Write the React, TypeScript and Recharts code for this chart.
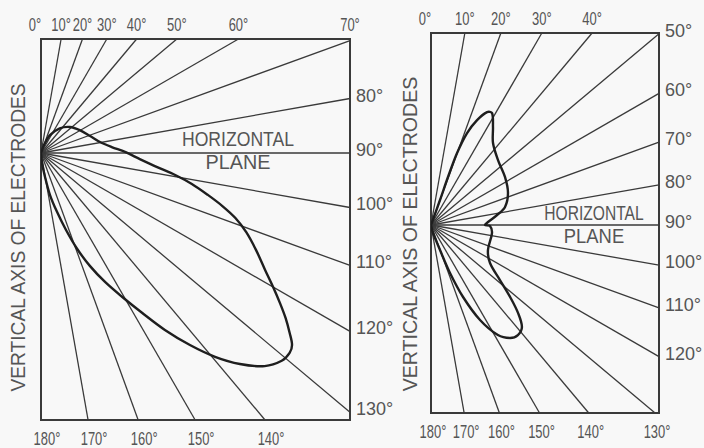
import React from "react";
import {
  ComposedChart,
  XAxis,
  YAxis,
  Line,
  ReferenceLine,
  ReferenceArea,
  ReferenceDot
} from "recharts";

// radial guide lines, degrees from the vertical axis
const gridAngles = [0, 10, 20, 30, 40, 50, 60, 70, 80, 90, 100, 110, 120, 130, 140, 150, 160, 170, 180];

// which edge of the frame each angle label sits on
const leftTopAngles = [0, 10, 20, 30, 40, 50, 60, 70];
const leftSideAngles = [80, 90, 100, 110, 120, 130];
const leftBottomAngles = [140, 150, 160, 170, 180];

const rightTopAngles = [0, 10, 20, 30, 40];
const rightSideAngles = [50, 60, 70, 80, 90, 100, 110, 120];
const rightBottomAngles = [130, 140, 150, 160, 170, 180];

// traced distribution curves (angle, radius) in drawing order
const leftCurveAngles = [
  18, 20.6, 26.6, 37.2, 48.1, 59.5, 70.9, 79.4, 85.2, 89.3, 93.5, 96.9, 99.3, 101.6, 104.1, 106.3,
  108.5, 111.1, 114.3, 117.6, 120, 122.1, 124, 125.9, 127.4, 128.8, 130.8, 133.6, 136.7, 139.5,
  142.2, 145, 147.7, 150.6, 153.6, 156.6, 159.4, 162, 164.8, 167.9, 170.5, 174.3, 176
];
const leftCurveRadii = [
  0, 8.5, 20, 31, 39, 45, 52, 60, 71, 84, 99, 117, 136, 154, 172, 189,
  205, 220, 236, 253, 268, 282, 295, 307, 316, 319, 318, 309, 290, 268,
  243, 216, 189, 165, 144, 123, 102, 81, 61, 43, 24, 10, 0
];

const rightCurveAngles = [19, 19.8, 19.5, 19.9, 21.4, 23.7, 26.4, 28.6, 32.3, 37.1, 45.9, 57, 67.4, 76.3, 81.4, 87, 90, 91, 97.5, 113.7, 122.8, 128.6, 132.3, 135.3, 138.3, 141.7, 145, 148.7, 152.7, 156, 158.4, 160.2, 166, 170];
const rightCurveRadii = [0, 26.6, 50.9, 76.6, 98.8, 114.6, 126.1, 127.5, 116, 102.8, 93.3, 88.2, 83.4, 76.2, 66.8, 57.1, 54, 59, 61.5, 62.2, 70.2, 88.2, 106.9, 123.7, 136.7, 140.2, 137.9, 128.8, 106.9, 78.8, 51.6, 26.6, 8.2, 0];

const TEXT = "#555";
const INK = "#3a3a3a";
const FONT = "'Liberation Sans', Arial, sans-serif";

type Frame = { width: number; up: number; down: number };

const rad = (d: number) => (d * Math.PI) / 180;

const toXY = (angle: number, r: number) => ({
  x: r * Math.sin(rad(angle)),
  y: r * Math.cos(rad(angle))
});

// point where a ray from the origin leaves the frame
const rayEnd = (angle: number, f: Frame) => {
  const s = Math.sin(rad(angle));
  const c = Math.cos(rad(angle));
  let t = Infinity;
  if (s > 1e-9) t = Math.min(t, f.width / s);
  if (c > 1e-9) t = Math.min(t, f.up / c);
  if (c < -1e-9) t = Math.min(t, f.down / -c);
  return {
    x: Math.min(f.width, Math.max(0, s * t)),
    y: Math.min(f.up, Math.max(-f.down, c * t))
  };
};

// smooth curve through the traced points (chord-length hermite), handed to Line as its curve type
const smoothTrace = (context: any) => {
  let pts: [number, number][] = [];
  return {
    areaStart() {},
    areaEnd() {},
    lineStart() {
      pts = [];
    },
    point(x: number, y: number) {
      pts.push([+x, +y]);
    },
    lineEnd() {
      if (!pts.length) return;
      const d = (a: [number, number], b: [number, number]) => Math.hypot(b[0] - a[0], b[1] - a[1]) || 1e-6;
      context.moveTo(pts[0][0], pts[0][1]);
      for (let i = 0; i < pts.length - 1; i++) {
        const p0 = pts[Math.max(0, i - 1)];
        const p1 = pts[i];
        const p2 = pts[i + 1];
        const p3 = pts[Math.min(pts.length - 1, i + 2)];
        const d12 = d(p1, p2);
        const k1 = d12 / (3 * (d(p0, p1) + d12));
        const k2 = d12 / (3 * (d12 + d(p2, p3)));
        context.bezierCurveTo(
          p1[0] + (p2[0] - p0[0]) * k1, p1[1] + (p2[1] - p0[1]) * k1,
          p2[0] - (p3[0] - p1[0]) * k2, p2[1] - (p3[1] - p1[1]) * k2,
          p2[0], p2[1]
        );
      }
    }
  };
};

// hand-lettered labels are condensed, so squeeze them horizontally
const Squeezed = ({ x, y, sx, rotate = 0, size, anchor = "middle", children }: any) => (
  <text
    transform={`translate(${x},${y}) rotate(${rotate}) scale(${sx},1)`}
    textAnchor={anchor}
    fill={TEXT}
    fontSize={size}
    fontFamily={FONT}
  >
    {children}
  </text>
);

type PanelProps = {
  frame: Frame;
  topAngles: number[];
  sideAngles: number[];
  bottomAngles: number[];
  curveAngles: number[];
  curveRadii: number[];
  width: number;
  height: number;
  margin: { top: number; right: number; bottom: number; left: number };
  sideWidth: number;
  bottomShift: number;
  planeX: number;
  horizScale: number;
  planeScale: number;
  horizGap: number;
  planeGap: number;
  titleScale: number;
  titleDx: number;
  titleDy: number;
};

const Panel = (p: PanelProps) => {
  const f = p.frame;
  const topMap = new Map<number, string>();
  p.topAngles.forEach(a => topMap.set(rayEnd(a, f).x, `${a}°`));
  const sideMap = new Map<number, string>();
  p.sideAngles.forEach(a => sideMap.set(rayEnd(a, f).y, `${a}°`));
  const bottomMap = new Map<number, string>();
  p.bottomAngles.forEach(a => bottomMap.set(rayEnd(a, f).x, `${a}°`));

  const curve = p.curveAngles.map((a, i) => toXY(a, p.curveRadii[i]));

  const topTick = (t: any) => {
    const s = topMap.get(t.payload.value) ?? "";
    const dx = s === "0°" ? -6 : 0;
    return <Squeezed x={t.x + dx} y={t.y - 6} sx={0.72} size={18}>{s}</Squeezed>;
  };
  const bottomTick = (t: any) => {
    const s = bottomMap.get(t.payload.value) ?? "";
    return <Squeezed x={t.x + p.bottomShift} y={t.y + 23} sx={0.72} size={18}>{s}</Squeezed>;
  };
  const sideTick = (t: any) => {
    const s = sideMap.get(t.payload.value) ?? "";
    return (
      <text x={t.x + 4} y={t.y + 3} textAnchor="start" fill={TEXT} fontSize={18} fontFamily={FONT}>{s}</text>
    );
  };

  const title = (l: any) => {
    const vb = l.viewBox;
    return (
      <Squeezed x={vb.x + p.titleDx} y={vb.y + vb.height / 2 + p.titleDy} rotate={-90} sx={p.titleScale} size={20}>
        VERTICAL AXIS OF ELECTRODES
      </Squeezed>
    );
  };

  const plane = (l: any) => {
    const vb = l.viewBox;
    return (
      <g>
        <Squeezed x={vb.x} y={vb.y - p.horizGap} sx={p.horizScale} size={20}>HORIZONTAL</Squeezed>
        <Squeezed x={vb.x} y={vb.y + p.planeGap} sx={p.planeScale} size={20}>PLANE</Squeezed>
      </g>
    );
  };

  return (
    <ComposedChart width={p.width} height={p.height} margin={p.margin}>
      <XAxis xAxisId="t" orientation="top" type="number" dataKey="x" domain={[0, f.width]}
        allowDataOverflow ticks={[...topMap.keys()]} interval={0} tick={topTick}
        axisLine={false} tickLine={false} tickSize={0} height={20} />
      <XAxis xAxisId="b" orientation="bottom" type="number" dataKey="x" domain={[0, f.width]}
        allowDataOverflow ticks={[...bottomMap.keys()]} interval={0} tick={bottomTick}
        axisLine={false} tickLine={false} tickSize={0} height={20} />
      <YAxis yAxisId="r" orientation="right" type="number" dataKey="y" domain={[-f.down, f.up]}
        allowDataOverflow ticks={[...sideMap.keys()]} interval={0} tick={sideTick}
        axisLine={false} tickLine={false} tickSize={0} width={p.sideWidth} />
      <ReferenceArea xAxisId="t" yAxisId="r" x1={0} x2={f.width} y1={-f.down} y2={f.up}
        fill="none" stroke={INK} strokeWidth={2} ifOverflow="visible" label={title} />
      {gridAngles.map(a => (
        <ReferenceLine key={a} xAxisId="t" yAxisId="r" ifOverflow="visible"
          segment={[{ x: 0, y: 0 }, rayEnd(a, f)]} stroke={INK} strokeWidth={1.3} />
      ))}
      <ReferenceDot xAxisId="t" yAxisId="r" x={p.planeX} y={0} r={0} fill="none" stroke="none"
        ifOverflow="visible" label={plane} />
      <Line xAxisId="t" yAxisId="r" data={curve} dataKey="y" type={smoothTrace as any} dot={false}
        stroke="#1e1e1e" strokeWidth={2.4} isAnimationActive={false} />
    </ComposedChart>
  );
};

export default function App() {
  return (
    <div style={{ position: "absolute", left: 0, top: 0, width: 704, height: 448, background: "#f8f8f8", overflow: "hidden" }}>
      <div style={{ position: "absolute", left: 0, top: 0 }}>
        <Panel
          frame={{ width: 309, up: 114, down: 267 }}
          topAngles={leftTopAngles}
          sideAngles={leftSideAngles}
          bottomAngles={leftBottomAngles}
          curveAngles={leftCurveAngles}
          curveRadii={leftCurveRadii}
          width={400}
          height={448}
          margin={{ top: 19, right: 0, bottom: 8, left: 41 }}
          sideWidth={50}
          bottomShift={6}
          planeX={197}
          horizScale={0.88}
          planeScale={0.99}
          horizGap={7}
          planeGap={16}
          titleScale={0.96}
          titleDx={-16}
          titleDy={8}
        />
      </div>
      <div style={{ position: "absolute", left: 400, top: 0 }}>
        <Panel
          frame={{ width: 228, up: 192, down: 188 }}
          topAngles={rightTopAngles}
          sideAngles={rightSideAngles}
          bottomAngles={rightBottomAngles}
          curveAngles={rightCurveAngles}
          curveRadii={rightCurveRadii}
          width={304}
          height={448}
          margin={{ top: 13, right: 5, bottom: 15, left: 31 }}
          sideWidth={40}
          bottomShift={2}
          planeX={163}
          horizScale={0.78}
          planeScale={0.92}
          horizGap={5}
          planeGap={18}
          titleScale={0.98}
          titleDx={-14}
          titleDy={11}
        />
      </div>
    </div>
  );
}
